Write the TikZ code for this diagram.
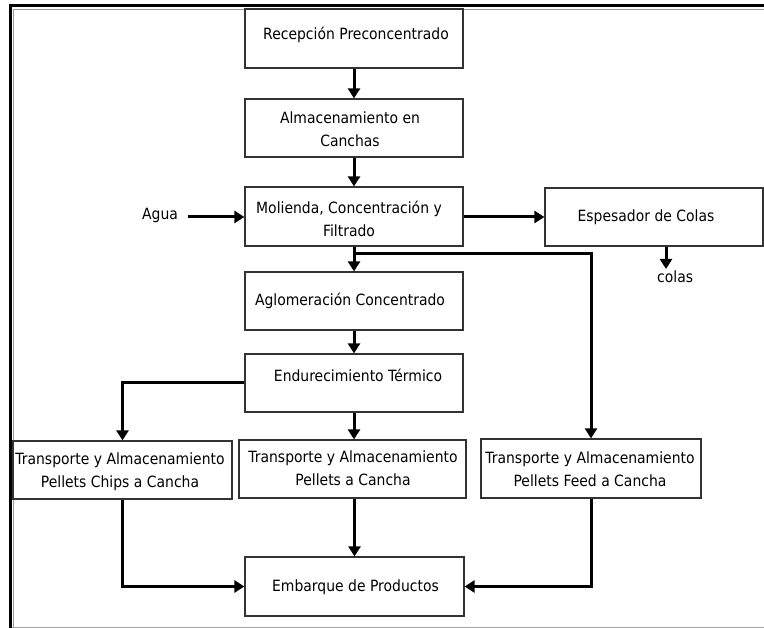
\documentclass[tikz,border=0pt]{standalone}
\usepackage{fontspec}
\setmainfont[FakeStretch=0.9]{DejaVu Sans}
\usetikzlibrary{arrows.meta,calc}
\begin{document}
\begin{tikzpicture}[x=1pt,y=-1pt,
  box/.style={draw=black!80,line width=1.2pt,inner sep=0pt,minimum height=58pt},
  txt/.style={inner sep=0pt,align=center,text=black,font=\fontsize{15.5}{23}\selectfont},
  arr/.style={line width=3pt,-{Triangle[length=10pt,width=12pt]}},
  conn/.style={line width=3pt}]
\useasboundingbox (0,0) rectangle (764,628);
% frame
\draw[black!40,line width=0.8pt] (13,628) -- (13,9) -- (764,9);
\draw[black!35,line width=0.8pt] (10,627) -- (764,627);
\draw[black,line width=3pt] (10,628) -- (10,6) -- (764,6);
% boxes
\node[box,minimum width=218pt,minimum height=59pt] (b1) at (354,38.5) {};
\node[box,minimum width=218pt] (b2) at (354,128) {};
\node[box,minimum width=218pt,minimum height=59pt] (b3) at (354,216.5) {};
\node[box,minimum width=218pt] (b4) at (654,217) {};
\node[box,minimum width=218pt] (b5) at (354,301) {};
\node[box,minimum width=218pt] (b6) at (354,383) {};
\node[box,minimum width=219pt] (b7) at (122.5,470) {};
\node[box,minimum width=227pt] (b8) at (352.5,469) {};
\node[box,minimum width=220pt,minimum height=59pt] (b9) at (591,468.5) {};
\node[box,minimum width=219pt,minimum height=59pt] (b10) at (354.5,586.5) {};
% texts
\node[txt] (t1) at (356,35) {Recepción Preconcentrado};
\node[txt] (t2) at (350,129) {Almacenamiento en\\Canchas};
\node[txt] (t3) at (349,218.5) {Molienda, Concentración y\\Filtrado};
\node[txt] (t4) at (646,217) {Espesador de Colas};
\node[txt] (t5) at (350,301) {Aglomeración Concentrado};
\node[txt] (t6) at (358,375) {Endurecimiento Térmico};
\node[txt] (t7) at (120,472) {Transporte y Almacenamiento\\Pellets Chips a Cancha};
\node[txt] (t8) at (353,468.5) {Transporte y Almacenamiento\\Pellets a Cancha};
\node[txt] (t9) at (590,469.5) {Transporte y Almacenamiento\\Pellets Feed a Cancha};
\node[txt] (t10) at (355.5,587) {Embarque de Productos};
\node[txt] (agua) at (160,215) {Agua};
\node[txt,anchor=north west] (colas) at (657,271) {colas};
% connectors
\coordinate (j1) at (354,254);
\coordinate (cend) at (666,269);
\draw[arr] (b1.south) -- (b2.north);
\draw[arr] (b2.south) -- (b3.north);
\draw[arr] (b3.south) -- (b5.north);
\draw[arr] (j1) -| (b9.north);
\draw[arr] ([xshift=10pt]agua.east |- b4.west) -- (b3.west |- b4.west);
\draw[arr] (b3.east |- b4.west) -- (b4.west);
\draw[arr] (b4.south -| cend) -- (cend);
\draw[arr] (b5.south) -- (b6.north);
\draw[arr] (b6.west) -| (b7.north);
\draw[arr] (b6.south) -- (b6.south |- b8.north);
\draw[arr] (b10.north |- b8.south) -- (b10.north);
\draw[arr] (b7.south) |- (b10.west);
\draw[arr] (b9.south) |- (b10.east);
\end{tikzpicture}
\end{document}
